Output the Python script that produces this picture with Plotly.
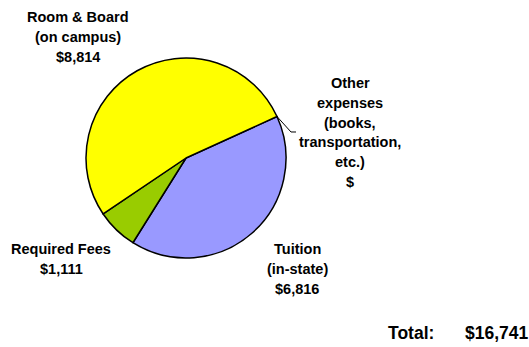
import math
import plotly.graph_objects as go

W, H = 529, 347

categories = ["Other expenses", "Tuition (in-state)", "Required Fees", "Room & Board (on campus)"]
values = [0, 6816, 1111, 8814]
colors = ["#FFFFFF", "#9999FF", "#99CC00", "#FFFF00"]
total_value = sum(values)

label_lines = {
    "Room & Board (on campus)": ["Room & Board", "(on campus)", "$8,814"],
    "Other expenses": ["Other", "expenses", "(books,", "transportation,", "etc.)", "$"],
    "Required Fees": ["Required Fees", "$1,111"],
    "Tuition (in-state)": ["Tuition", "(in-state)", "$6,816"],
}
# label block centres (pixels): x centre, y of first line
label_pos = {
    "Room & Board (on campus)": (78, 17),
    "Other expenses": (350, 83),
    "Required Fees": (61, 249),
    "Tuition (in-state)": (297, 249),
}
LINE_STEP = 19.8

cx, cy, r = 186, 158, 100
rotation = 65.5

FONT = "Arial, Liberation Sans, sans-serif"

fig = go.Figure(go.Pie(
    labels=categories,
    values=values,
    sort=False,
    direction="clockwise",
    rotation=rotation,
    marker=dict(colors=colors, line=dict(color="#000000", width=1.5)),
    textinfo="none",
    hoverinfo="label+value",
    showlegend=False,
    domain=dict(x=[(cx - r) / W, (cx + r) / W], y=[1 - (cy + r) / H, 1 - (cy - r) / H]),
))

annotations = []
for cat, lines in label_lines.items():
    x0, y0 = label_pos[cat]
    for i, t in enumerate(lines):
        annotations.append(dict(
            x=x0 / W, y=1 - (y0 + i * LINE_STEP) / H, xref="paper", yref="paper",
            text=f"<b>{t}</b>", showarrow=False, xanchor="center", yanchor="middle",
            font=dict(family=FONT, size=14.5, color="#000000"),
        ))

annotations.append(dict(
    x=386 / W, y=1 - 333 / H, xref="paper", yref="paper", text="<b>Total:</b>",
    showarrow=False, xanchor="left", yanchor="middle",
    font=dict(family=FONT, size=17.5, color="#000000"),
))
annotations.append(dict(
    x=531 / W, y=1 - 333 / H, xref="paper", yref="paper", text=f"<b>${total_value:,}</b>",
    showarrow=False, xanchor="right", yanchor="middle",
    font=dict(family=FONT, size=17.5, color="#000000"),
))

# leader line for the "Other" slice
a = math.radians(rotation)
ex, ey = cx + r * math.sin(a), cy - r * math.cos(a)
pts = [(ex, ey), (291, 132), (296, 132)]
path = "M " + " L ".join(f"{px / W:.5f},{1 - py / H:.5f}" for px, py in pts)
shapes = [dict(type="path", xref="paper", yref="paper", path=path,
               line=dict(color="#000000", width=1))]

fig.update_layout(
    width=W, height=H,
    margin=dict(l=0, r=0, t=0, b=0),
    paper_bgcolor="#FFFFFF", plot_bgcolor="#FFFFFF",
    annotations=annotations, shapes=shapes,
)

fig.write_html("out.html")
